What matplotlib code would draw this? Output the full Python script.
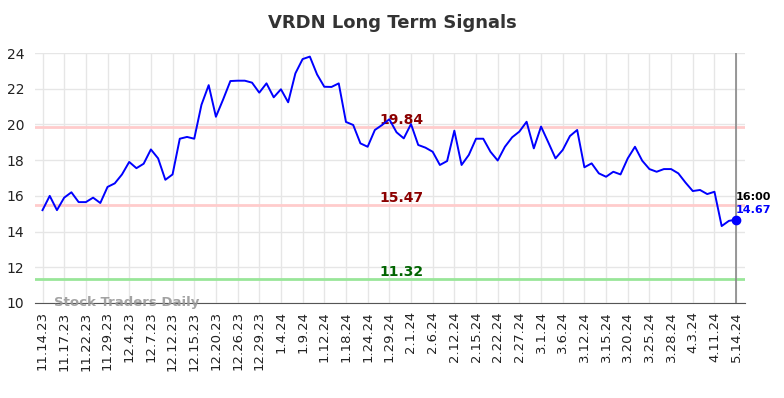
import matplotlib

matplotlib.use("Agg")
import matplotlib.pyplot as plt
import numpy as np

# closing values, one per trading session shown
prices = [
    15.2, 16.0, 15.2, 15.9, 16.2, 15.65, 15.65, 15.9, 15.6, 16.5,
    16.7, 17.2, 17.9, 17.55, 17.8, 18.6, 18.1, 16.9, 17.2, 19.2,
    19.3, 19.2, 21.1, 22.2, 20.43, 21.4, 22.43, 22.45, 22.45, 22.34,
    21.78, 22.3, 21.52, 21.97, 21.24, 22.86, 23.66, 23.8, 22.8, 22.11,
    22.1, 22.3, 20.14, 19.97, 18.94, 18.75, 19.69, 19.97, 20.29, 19.56,
    19.22, 20.02, 18.85, 18.7, 18.47, 17.73, 17.95, 19.65, 17.73, 18.29,
    19.2, 19.2, 18.47, 17.98, 18.75, 19.28, 19.6, 20.15, 18.66, 19.88,
    19.0, 18.1, 18.57, 19.35, 19.69, 17.6, 17.82, 17.26, 17.07, 17.35,
    17.2, 18.1, 18.75, 17.97, 17.5, 17.35, 17.5, 17.5, 17.26, 16.74,
    16.27, 16.33, 16.1, 16.23, 14.31, 14.6, 14.67,
]
tick_labels = [
    "11.14.23", "11.17.23", "11.22.23", "11.29.23", "12.4.23", "12.7.23",
    "12.12.23", "12.15.23", "12.20.23", "12.26.23", "12.29.23", "1.4.24",
    "1.9.24", "1.12.24", "1.18.24", "1.24.24", "1.29.24", "2.1.24",
    "2.6.24", "2.12.24", "2.15.24", "2.22.24", "2.27.24", "3.1.24",
    "3.6.24", "3.12.24", "3.15.24", "3.20.24", "3.25.24", "3.28.24",
    "4.3.24", "4.11.24", "5.14.24",
]
upper_level = 19.84
mid_level = 15.47
lower_level = 11.32
last_time = "16:00"

x = np.arange(len(prices))
ticks = x[::3]

fig = plt.figure(figsize=(7.84, 3.98), dpi=100)
ax = fig.add_axes([0.045, 0.2387, 0.905, 0.6281])

ax.set_ylim(10, 24)
ax.set_xlim(-1, len(prices) + 0.2)
ax.set_yticks(range(10, 25, 2))
ax.set_xticks(ticks)
ax.set_xticklabels(tick_labels, rotation=90, fontsize=9.5, color="#222222")
ax.tick_params(axis="y", labelsize=10, colors="#222222", length=0, pad=8)
ax.tick_params(axis="x", length=0, pad=6)
ax.grid(True, color="#e6e6e6", lw=1)
ax.set_axisbelow(True)
for s in ["top", "right", "left"]:
    ax.spines[s].set_visible(False)
ax.spines["bottom"].set_color("#555555")

ax.axhline(upper_level, color="#ffcccc", lw=2, zorder=1)
ax.axhline(mid_level, color="#ffcccc", lw=2, zorder=1)
ax.axhline(lower_level, color="#99e699", lw=2, zorder=1)
mid = (len(prices) - 1) / 2 + 1.7
ax.text(mid, upper_level, f"{upper_level:.2f}", color="#8b0000", fontsize=10,
        fontweight="bold", ha="center", va="bottom")
ax.text(mid, mid_level, f"{mid_level:.2f}", color="#8b0000", fontsize=10,
        fontweight="bold", ha="center", va="bottom")
ax.text(mid, lower_level, f"{lower_level:.2f}", color="#006400", fontsize=10,
        fontweight="bold", ha="center", va="bottom")

ax.axvline(x[-1], color="#888888", lw=1.2, zorder=2)
ax.plot(x, prices, color="#0000ff", lw=1.4, zorder=3)
ax.plot(x[-1], prices[-1], "o", color="#0000ff", ms=6, zorder=4)
ax.text(x[-1], prices[-1] + 1.25, last_time, fontsize=8, fontweight="bold",
        color="black", ha="left", va="center")
ax.text(x[-1], prices[-1] + 0.55, f"{prices[-1]:.2f}", fontsize=8,
        fontweight="bold", color="#0000ff", ha="left", va="center")

ax.text(1.6, 10.0, "Stock Traders Daily", fontsize=9.5, fontweight="bold",
        color="#999999", alpha=0.9, ha="left", va="center")

fig.suptitle("VRDN Long Term Signals", x=0.5, y=0.965, fontsize=13,
             fontweight="bold", color="#333333")

fig.savefig("out.png", dpi=100)
